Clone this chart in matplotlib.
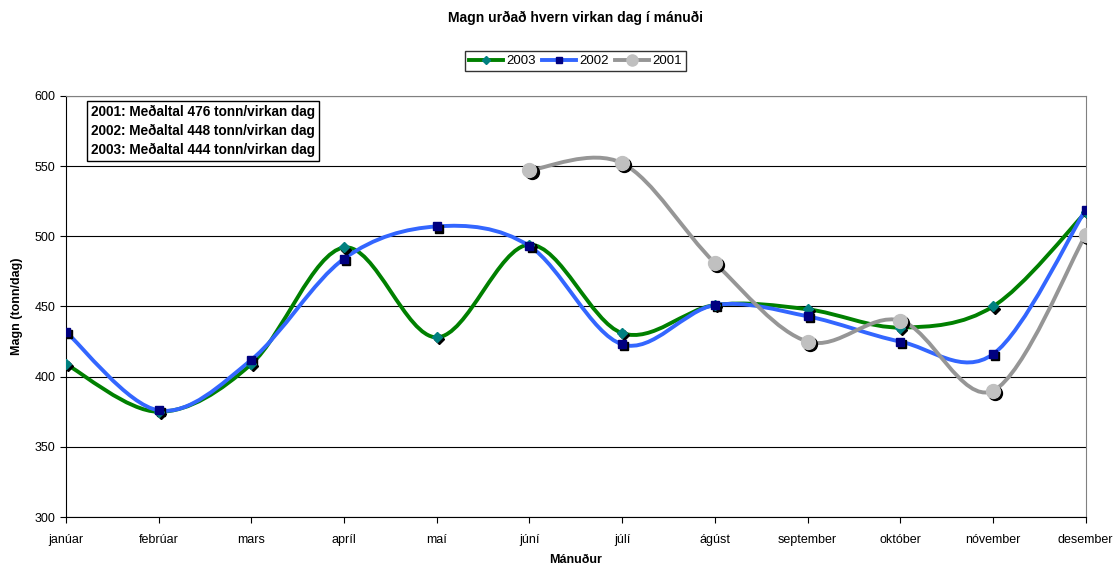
import numpy as np
import matplotlib.pyplot as plt
from matplotlib.path import Path
from matplotlib.patches import PathPatch
from matplotlib.lines import Line2D
from matplotlib import transforms

plt.rcParams['font.family'] = ['Liberation Sans', 'DejaVu Sans']

# gögn lesin af myndinni
manudir = ['janúar', 'febrúar', 'mars', 'apríl', 'maí', 'júní', 'júlí',
           'ágúst', 'september', 'október', 'nóvember', 'desember']
magn_2003 = [409, 375, 409, 492, 428, 494, 431, 451, 448, 435, 450, 517]
magn_2002 = [432, 376, 412, 484, 507, 493, 423, 451, 443, 425, 416, 519]
magn_2001 = [None, None, None, None, None, 547, 552, 481, 425, 440, 390, 501]

# litir og merki hverrar raðar
styles = {
    '2003': dict(line='#008000', face='#008080', marker='D', ms=5),
    '2002': dict(line='#3366FF', face='#000080', marker='s', ms=6),
    '2001': dict(line='#969696', face='#C0C0C0', marker='o', ms=10),
}


def smooth_path(x, y):
    """Excel-líkur sléttur ferill (Bezier með Catmull-Rom stýripunktum)"""
    pts = np.column_stack([x, y]).astype(float)
    n = len(pts)
    verts = [pts[0]]
    codes = [Path.MOVETO]
    for i in range(n - 1):
        p0 = pts[i - 1] if i > 0 else pts[i]
        p1 = pts[i]
        p2 = pts[i + 1]
        p3 = pts[i + 2] if i + 2 < n else pts[i + 1]
        c1 = p1 + (p2 - p0) / 6.0
        c2 = p2 - (p3 - p1) / 6.0
        verts += [c1, c2, p2]
        codes += [Path.CURVE4] * 3
    return Path(verts, codes)


fig = plt.figure(figsize=(11.17, 5.67), dpi=100)
ax = fig.add_axes([0.059, 0.088, 0.913, 0.743])

x_all = np.arange(len(manudir))
for name, vals in [('2003', magn_2003), ('2002', magn_2002), ('2001', magn_2001)]:
    st = styles[name]
    xs = np.array([i for i, v in zip(x_all, vals) if v is not None])
    ys = np.array([v for v in vals if v is not None], dtype=float)
    ax.add_patch(PathPatch(smooth_path(xs, ys), fill=False, edgecolor=st['line'],
                           linewidth=2.8, zorder=3, capstyle='round'))
    # skuggi undir merkjunum
    shadow = transforms.offset_copy(ax.transData, fig=fig, x=1.5, y=-1.5, units='points')
    ax.plot(xs, ys, linestyle='none', marker=st['marker'], ms=st['ms'],
            mfc='black', mec='black', transform=shadow, zorder=4)
    ax.plot(xs, ys, linestyle='none', marker=st['marker'], ms=st['ms'],
            mfc=st['face'], mec=st['face'], zorder=5)

ax.set_xlim(0, len(manudir) - 1)
ax.set_ylim(300, 600)
ax.set_xticks(x_all)
ax.set_xticklabels(manudir, fontsize=9)
ax.set_yticks(np.arange(300, 601, 50))
ax.tick_params(axis='y', labelsize=9, length=4, direction='out')
ax.tick_params(axis='x', length=4, direction='out', pad=8)
ax.yaxis.grid(True, color='black', linewidth=0.8)
ax.set_axisbelow(True)
for s in ['top', 'right']:
    ax.spines[s].set_color('#808080')
ax.spines['left'].set_color('black')
ax.spines['bottom'].set_color('black')

ax.set_xlabel('Mánuður', fontsize=9, fontweight='bold', labelpad=6)
ax.set_ylabel('Magn (tonn/dag)', fontsize=9, fontweight='bold', labelpad=8)

fig.text(0.515, 0.968, 'Magn urðað hvern virkan dag í mánuði', ha='center', va='center',
         fontsize=10, fontweight='bold')

handles = [Line2D([0], [0], color=styles[k]['line'], lw=2.8, marker=styles[k]['marker'],
                  ms=styles[k]['ms'] * 0.8, mfc=styles[k]['face'], mec=styles[k]['face'])
           for k in ['2003', '2002', '2001']]
fig.legend(handles, ['2003', '2002', '2001'], loc='center', bbox_to_anchor=(0.515, 0.892),
           ncol=3, fontsize=9.5, frameon=True, fancybox=False, edgecolor='black',
           handlelength=2.6, handletextpad=0.2, columnspacing=0.5, borderpad=0.3)

ax.text(0.025, 0.979, '2001: Meðaltal 476 tonn/virkan dag\n2002: Meðaltal 448 tonn/virkan dag\n'
        '2003: Meðaltal 444 tonn/virkan dag', transform=ax.transAxes, ha='left', va='top',
        fontsize=9.8, fontweight='bold', linespacing=1.45,
        bbox=dict(boxstyle='square,pad=0.3', facecolor='white', edgecolor='black'))

fig.savefig('out.png', dpi=100)
